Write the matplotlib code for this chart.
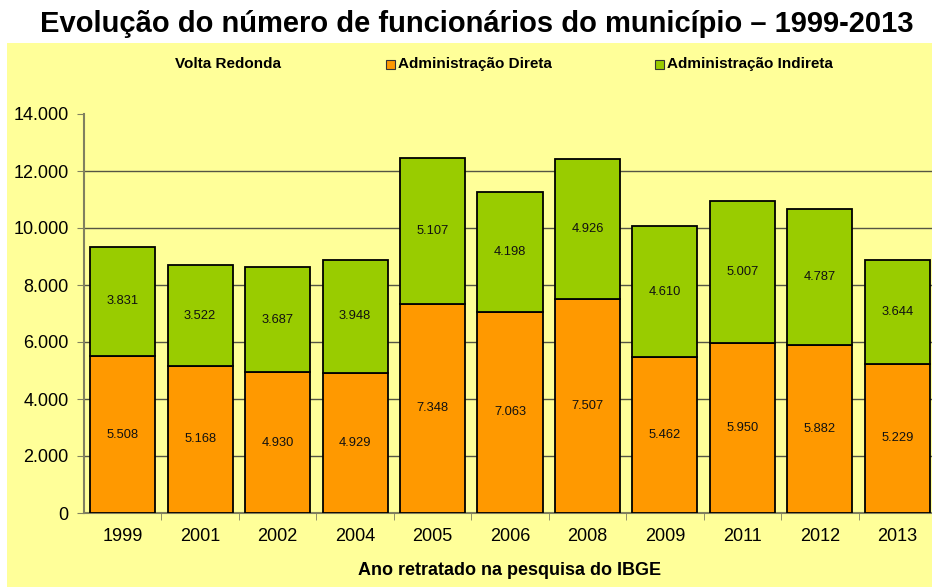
import matplotlib.pyplot as plt
from matplotlib.patches import Rectangle
import numpy as np

plt.rcParams['font.family'] = ['Liberation Sans', 'DejaVu Sans']

anos = ['1999', '2001', '2002', '2004', '2005', '2006', '2008', '2009', '2011', '2012', '2013']
direta = [5508, 5168, 4930, 4929, 7348, 7063, 7507, 5462, 5950, 5882, 5229]
indireta = [3831, 3522, 3687, 3948, 5107, 4198, 4926, 4610, 5007, 4787, 3644]

cor_direta = '#FF9900'
cor_indireta = '#99CC00'
fundo = '#FFFF99'


def fmt(v):
    return f'{v:,}'.replace(',', '.')


fig = plt.figure(figsize=(9.32, 5.87), dpi=100)
fig.patch.set_facecolor('white')
fig.patches.append(Rectangle((7 / 932, 0), 1, 1 - 43 / 587, transform=fig.transFigure,
                             facecolor=fundo, edgecolor='none', zorder=-10))

ax = fig.add_axes([84 / 932, 1 - 513 / 587, 852 / 932, 399 / 587])
ax.set_facecolor('none')

x = np.arange(len(anos))
ax.bar(x, direta, width=0.84, color=cor_direta, edgecolor='black', linewidth=1.3, zorder=3)
ax.bar(x, indireta, width=0.84, bottom=direta, color=cor_indireta, edgecolor='black',
       linewidth=1.3, zorder=3)

for i in range(len(anos)):
    ax.text(x[i], direta[i] / 2, fmt(direta[i]), ha='center', va='center', fontsize=9.3,
            color='#111111', zorder=4)
    ax.text(x[i], direta[i] + indireta[i] / 2, fmt(indireta[i]), ha='center', va='center',
            fontsize=9.3, color='#111111', zorder=4)

ax.set_xlim(-0.5, len(anos) - 0.5)
ax.set_ylim(0, 14000)
ax.set_yticks(range(0, 14001, 2000))
ax.set_yticklabels([fmt(v) for v in range(0, 14001, 2000)], fontsize=13)
for v in range(2000, 12001, 2000):
    ax.axhline(v, color='#555544', linewidth=1, zorder=1)

ax.set_xticks(x)
ax.set_xticklabels(anos, fontsize=13)
ax.set_xticks(x[:-1] + 0.5, minor=True)
ax.tick_params(axis='x', which='major', length=0, pad=11)
ax.tick_params(axis='x', which='minor', length=5, color='#808060', direction='out')
ax.tick_params(axis='y', length=5, color='#808060', direction='out', pad=6)
for s in ['top', 'right']:
    ax.spines[s].set_visible(False)
ax.spines['left'].set_color('#808060')
ax.spines['left'].set_linewidth(1.5)
ax.spines['bottom'].set_color('#808060')
ax.spines['bottom'].set_linewidth(1.5)

ax.set_xlabel('Ano retratado na pesquisa do IBGE', fontsize=13, fontweight='bold', labelpad=12)

fig.text(477 / 932, 1 - 24 / 587, 'Evolução do número de funcionários do município – 1999-2013',
         ha='center', va='center', fontsize=21, fontweight='bold')

# legenda
ly = 1 - 64 / 587
fig.text(175 / 932, ly, 'Volta Redonda', ha='left', va='center', fontsize=11, fontweight='bold')
for px, cor, nome in [(386, cor_direta, 'Administração Direta'),
                      (655, cor_indireta, 'Administração Indireta')]:
    fig.patches.append(Rectangle((px / 932, ly - 5 / 587), 9 / 932, 9 / 587,
                                 transform=fig.transFigure, facecolor=cor,
                                 edgecolor='#333333', linewidth=0.8, zorder=2))
    fig.text((px + 12) / 932, ly, nome, ha='left', va='center', fontsize=11, fontweight='bold')

fig.savefig('out.png', dpi=100)
